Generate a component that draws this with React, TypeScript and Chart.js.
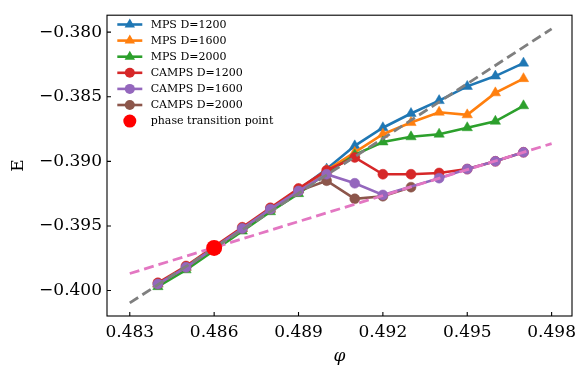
import React, { useEffect, useRef } from "react";
import { Chart, registerables } from "chart.js";

Chart.register(...registerables);

// ---- data ----
const phi = [0.484, 0.485, 0.486, 0.487, 0.488, 0.489, 0.49, 0.491, 0.492, 0.493, 0.494, 0.495, 0.496, 0.497];
const mps1200 = [-0.3995, -0.3982, -0.3968, -0.3952, -0.3937, -0.3922, -0.3906, -0.3888, -0.3874, -0.3863, -0.3853, -0.3842, -0.3834, -0.3824];
const mps1600 = [-0.3995, -0.3982, -0.3968, -0.3952, -0.3937, -0.3922, -0.3907, -0.3893, -0.3879, -0.3870, -0.3862, -0.3864, -0.3847, -0.3836];
const mps2000 = [-0.3997, -0.3984, -0.3969, -0.3954, -0.3939, -0.3925, -0.3909, -0.3895, -0.3885, -0.3881, -0.3879, -0.3874, -0.3869, -0.3857];
const camps1200 = [-0.3994, -0.3981, -0.3966, -0.3951, -0.3936, -0.3921, -0.3907, -0.3897, -0.3910, -0.3910, -0.3909, -0.3906, -0.3900, -0.3893];
const phiCamps1600 = [0.484, 0.485, 0.486, 0.487, 0.488, 0.489, 0.49, 0.491, 0.492, 0.494, 0.495, 0.496, 0.497];
const camps1600 = [-0.3995, -0.3982, -0.3967, -0.3952, -0.3937, -0.3923, -0.3910, -0.3917, -0.3926, -0.3913, -0.3906, -0.3900, -0.3893];
const phiCamps2000 = [0.484, 0.485, 0.486, 0.487, 0.488, 0.489, 0.49, 0.491, 0.492, 0.493];
const camps2000 = [-0.3995, -0.3982, -0.3967, -0.3952, -0.3937, -0.3923, -0.3915, -0.3929, -0.3927, -0.3920];
const grayFitX = [0.483, 0.498];
const grayFitY = [-0.40096, -0.37975];
const pinkFitX = [0.483, 0.498];
const pinkFitY = [-0.39868, -0.38863];
const transitionX = [0.486];
const transitionY = [-0.3967];
const xTicks = [0.483, 0.486, 0.489, 0.492, 0.495, 0.498];
const yTicks = [-0.4, -0.395, -0.39, -0.385, -0.38];
const xRange = [0.48219, 0.498725];
const yRange = [-0.40197, -0.37869];

const labels = [
  "MPS D=1200",
  "MPS D=1600",
  "MPS D=2000",
  "CAMPS D=1200",
  "CAMPS D=1600",
  "CAMPS D=2000",
  "phase transition point",
];

const C = {
  blue: "#1f77b4",
  orange: "#ff7f0e",
  green: "#2ca02c",
  red: "#d62728",
  purple: "#9467bd",
  brown: "#8c564b",
  pink: "#e377c2",
  gray: "#7f7f7f",
  pt: "#ff0000",
};

const FONT = '"DejaVu Serif", serif';

const zip = (xs: number[], ys: number[]) => xs.map((x, i) => ({ x, y: ys[i] }));

function series(label: string, xs: number[], ys: number[], color: string, style: string, order: number) {
  return {
    label,
    data: zip(xs, ys),
    borderColor: color,
    backgroundColor: color,
    borderWidth: 2.6,
    pointStyle: style,
    pointRadius: style === "triangle" ? 6 : 5,
    pointBackgroundColor: color,
    pointBorderColor: color,
    pointBorderWidth: 0.5,
    order,
    tension: 0,
  };
}

function drawMarker(ctx: CanvasRenderingContext2D, style: string, x: number, y: number, r: number, color: string) {
  ctx.fillStyle = color;
  ctx.beginPath();
  if (style === "triangle") {
    let rad = 0;
    ctx.moveTo(x + Math.sin(rad) * r, y - Math.cos(rad) * r);
    rad += (2 * Math.PI) / 3;
    ctx.lineTo(x + Math.sin(rad) * r, y - Math.cos(rad) * r);
    rad += (2 * Math.PI) / 3;
    ctx.lineTo(x + Math.sin(rad) * r, y - Math.cos(rad) * r);
    ctx.closePath();
  } else {
    ctx.arc(x, y, r, 0, Math.PI * 2);
  }
  ctx.fill();
}

const overlay = {
  id: "overlay",
  afterDraw(chart: any) {
    const { ctx, chartArea: a, scales } = chart;
    const xs = scales.x;
    const ys = scales.y;
    ctx.save();
    // frame
    ctx.strokeStyle = "#000";
    ctx.lineWidth = 1.1;
    ctx.strokeRect(a.left, a.top, a.right - a.left, a.bottom - a.top);
    // inward ticks
    ctx.beginPath();
    xTicks.forEach((v) => {
      const px = xs.getPixelForValue(v);
      ctx.moveTo(px, a.bottom);
      ctx.lineTo(px, a.bottom - 4);
    });
    yTicks.forEach((v) => {
      const py = ys.getPixelForValue(v);
      ctx.moveTo(a.left, py);
      ctx.lineTo(a.left + 4, py);
    });
    ctx.stroke();

    // axis titles
    ctx.fillStyle = "#000";
    ctx.textAlign = "center";
    ctx.textBaseline = "middle";
    ctx.font = `italic 17px ${FONT}`;
    ctx.fillText("φ", (a.left + a.right) / 2, 357);
    ctx.save();
    ctx.translate(18.5, (a.top + a.bottom) / 2);
    ctx.rotate(-Math.PI / 2);
    ctx.font = `17px ${FONT}`;
    ctx.fillText("E", 0, 0);
    ctx.restore();

    // legend
    const entries = [
      { c: C.blue, s: "triangle", line: true },
      { c: C.orange, s: "triangle", line: true },
      { c: C.green, s: "triangle", line: true },
      { c: C.red, s: "circle", line: true },
      { c: C.purple, s: "circle", line: true },
      { c: C.brown, s: "circle", line: true },
      { c: C.pt, s: "circle", line: false },
    ];
    ctx.font = `11px ${FONT}`;
    ctx.textAlign = "left";
    ctx.textBaseline = "middle";
    entries.forEach((e, i) => {
      const cy = 24.5 + i * 16.1;
      if (e.line) {
        ctx.strokeStyle = e.c;
        ctx.lineWidth = 2.6;
        ctx.beginPath();
        ctx.moveTo(117.3, cy);
        ctx.lineTo(142.3, cy);
        ctx.stroke();
        drawMarker(ctx, e.s, 129.8, cy, e.s === "triangle" ? 6 : 5, e.c);
      } else {
        drawMarker(ctx, e.s, 129.8, cy, 6.5, e.c);
      }
      ctx.fillStyle = "#000";
      ctx.fillText(labels[i], 150.7, cy + 0.5);
    });
    ctx.restore();
  },
};

export default function App() {
  const ref = useRef<HTMLCanvasElement | null>(null);
  useEffect(() => {
    document.body.style.margin = "0";
    const canvas = ref.current;
    if (!canvas) return;
    const chart = new Chart(canvas, {
      type: "line",
      data: {
        datasets: [
          {
            label: labels[6],
            data: zip(transitionX, transitionY),
            showLine: false,
            pointRadius: 8,
            pointBackgroundColor: C.pt,
            pointBorderColor: C.pt,
            pointBorderWidth: 0,
            backgroundColor: C.pt,
            borderColor: C.pt,
            order: 0,
          },
          {
            label: "fit1",
            data: zip(grayFitX, grayFitY),
            borderColor: C.gray,
            borderWidth: 2.8,
            borderDash: [10, 5],
            pointRadius: 0,
            order: 1,
          },
          {
            label: "fit2",
            data: zip(pinkFitX, pinkFitY),
            borderColor: C.pink,
            borderWidth: 2.8,
            borderDash: [10, 5],
            pointRadius: 0,
            order: 2,
          },
          series(labels[4], phiCamps1600, camps1600, C.purple, "circle", 3),
          series(labels[5], phiCamps2000, camps2000, C.brown, "circle", 4),
          series(labels[3], phi, camps1200, C.red, "circle", 5),
          series(labels[2], phi, mps2000, C.green, "triangle", 6),
          series(labels[1], phi, mps1600, C.orange, "triangle", 7),
          series(labels[0], phi, mps1200, C.blue, "triangle", 8),
        ] as any,
      },
      options: {
        animation: false,
        responsive: false,
        events: [],
        layout: { padding: { top: 10, right: 16, left: 0, bottom: 0 } },
        plugins: { legend: { display: false }, tooltip: { enabled: false } },
        scales: {
          x: {
            type: "linear",
            min: xRange[0],
            max: xRange[1],
            grid: { display: false, drawTicks: false },
            border: { display: false },
            afterBuildTicks: (s: any) => {
              s.ticks = xTicks.map((v) => ({ value: v }));
            },
            afterFit: (s: any) => {
              s.height = 64;
            },
            ticks: {
              autoSkip: false,
              maxRotation: 0,
              padding: 6,
              color: "#000",
              font: { family: FONT, size: 17 },
              callback: (v: any) => Number(v).toFixed(3),
            },
          },
          y: {
            type: "linear",
            min: yRange[0],
            max: yRange[1],
            grid: { display: false, drawTicks: false },
            border: { display: false },
            afterBuildTicks: (s: any) => {
              s.ticks = yTicks.map((v) => ({ value: v }));
            },
            afterFit: (s: any) => {
              s.width = 107;
            },
            ticks: {
              autoSkip: false,
              padding: 5,
              color: "#000",
              font: { family: FONT, size: 17 },
              callback: (v: any) => Number(v).toFixed(3).replace("-", "\u2212"),
            },
          },
        },
      } as any,
      plugins: [overlay],
    });
    return () => chart.destroy();
  }, []);
  return (
    <div style={{ width: 588, height: 380 }}>
      <canvas ref={ref} width={588} height={380} style={{ display: "block" }} />
    </div>
  );
}
